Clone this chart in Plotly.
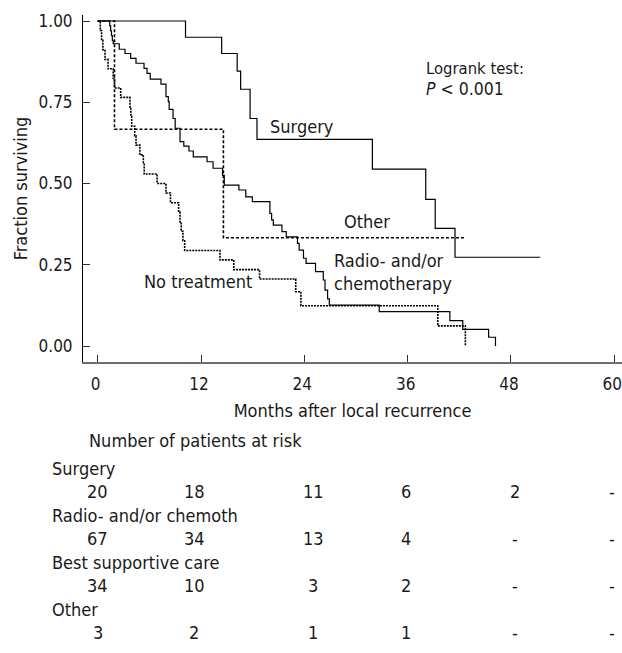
import plotly.graph_objects as go

# ---------------- data ----------------
surgery_t = [0, 10.2, 14.4, 16.2, 16.6, 17.7, 18.5, 31.9, 38.1, 39.2, 41.5, 51.4]
surgery_s = [1.0, 0.95, 0.90, 0.846, 0.79, 0.70, 0.636, 0.544, 0.451, 0.362, 0.273, 0.273]

radio_t = [0, 1.4, 1.5, 1.6, 1.7, 1.8, 2.5, 3.17, 3.83, 4.45, 5.38, 5.73, 6.1, 7.35, 7.93,
           8.2, 8.3, 8.75, 9.0, 9.56, 10.0, 10.6, 11.1, 12.7, 13.4, 14.5, 14.7, 16.4, 17.2,
           17.96, 20.0, 20.2, 20.4, 21.4, 21.9, 23.2, 23.4, 23.9, 24.2, 25.3, 26.2, 26.4,
           26.7, 26.9, 32.7, 40.9, 42.4, 45.4, 46.2]
radio_s = [1.0, 0.985, 0.97, 0.955, 0.94, 0.93, 0.913, 0.90, 0.885, 0.87, 0.854, 0.839, 0.821,
           0.806, 0.767, 0.752, 0.728, 0.70, 0.67, 0.629, 0.615, 0.60, 0.582, 0.567, 0.547,
           0.525, 0.495, 0.48, 0.459, 0.444, 0.408, 0.388, 0.372, 0.352, 0.336, 0.316, 0.295,
           0.27, 0.254, 0.229, 0.203, 0.172, 0.145, 0.126, 0.106, 0.078, 0.051, 0.027, 0.0]

bsc_t = [0, 0.3, 0.45, 0.6, 0.85, 1.2, 1.8, 1.95, 2.67, 3.75, 3.85, 3.95, 4.3, 4.45, 4.9,
         5.3, 5.4, 6.9, 7.93, 8.45, 9.4, 9.56, 9.7, 9.9, 10.1, 14.2, 15.8, 18.8, 23.0, 23.6,
         39.5, 42.7]
bsc_s = [1.0, 0.971, 0.941, 0.912, 0.882, 0.853, 0.824, 0.794, 0.765, 0.735, 0.706, 0.676,
         0.647, 0.618, 0.588, 0.559, 0.529, 0.50, 0.471, 0.441, 0.412, 0.382, 0.353, 0.324,
         0.294, 0.265, 0.235, 0.206, 0.167, 0.124, 0.062, 0.0]

other_t = [0, 1.95, 14.6, 42.6]
other_s = [1.0, 0.667, 0.333, 0.333]

x_ticks = [0, 12, 24, 36, 48, 60]
y_ticks = [0, 0.25, 0.5, 0.75, 1.0]

risk_groups = ["Surgery", "Radio- and/or chemoth", "Best supportive care", "Other"]
risk_counts = [
    ["20", "18", "11", "6", "2", "-"],
    ["67", "34", "13", "4", "-", "-"],
    ["34", "10", "3", "2", "-", "-"],
    ["3", "2", "1", "1", "-", "-"],
]

# ---------------- layout geometry ----------------
W, H = 622, 653
L, R, T, B = 83, 622, 15, 362
X0PX, XSC = 97.7, 8.61      # pixel of month 0, px per month
Y0PX, YSC = 346.0, 325.0    # pixel of survival 0, px per unit
xr = [(L - X0PX) / XSC, (R - X0PX) / XSC]
yr = [(Y0PX - B) / YSC, (Y0PX - T) / YSC]

def py(p):
    return (B - p) / (B - T)

def px(p):
    return (p - L) / (R - L)

FONT = "DejaVu Sans Condensed, DejaVu Sans, sans-serif"
FS = 18
TXT = "#1a1a1a"

fig = go.Figure()
fig.add_trace(go.Scatter(x=surgery_t, y=surgery_s, mode="lines", line_shape="hv",
                         line=dict(color="black", width=1.2), showlegend=False))
fig.add_trace(go.Scatter(x=radio_t, y=radio_s, mode="lines", line_shape="hv",
                         line=dict(color="black", width=1.2), showlegend=False))
fig.add_trace(go.Scatter(x=bsc_t, y=bsc_s, mode="lines", line_shape="hv",
                         line=dict(color="black", width=1.6, dash="2px,1px"), showlegend=False))
fig.add_trace(go.Scatter(x=other_t, y=other_s, mode="lines", line_shape="hv",
                         line=dict(color="black", width=1.6, dash="3px,2px"), showlegend=False))

ann = []
# in-plot labels
ann.append(dict(x=23.7, y=0.674, xref="x", yref="y", text="Surgery", showarrow=False,
                xanchor="center", yanchor="middle"))
ann.append(dict(x=31.3, y=0.382, xref="x", yref="y", text="Other", showarrow=False,
                xanchor="center", yanchor="middle"))
ann.append(dict(x=27.2, y=0.228, xref="x", yref="y", text="Radio- and/or<br>chemotherapy",
                showarrow=False, xanchor="left", yanchor="middle", align="left"))
ann.append(dict(x=11.6, y=0.198, xref="x", yref="y", text="No treatment", showarrow=False,
                xanchor="center", yanchor="middle"))
ann.append(dict(x=37.95, y=0.822, xref="x", yref="y",
                text="Logrank test:<br><span style='font-size:17.5px'><i>P</i> < 0.001</span>",
                showarrow=False, xanchor="left", yanchor="middle", align="left",
                font=dict(size=16.5)))

# at-risk table
ann.append(dict(x=px(87), y=py(440), xref="paper", yref="paper",
                text="Number of patients at risk", showarrow=False,
                xanchor="left", yanchor="middle"))
col_shift = [0, -7, 9, -2, 4, -2]
row_label_y = [468, 515, 562, 609]
row_num_y = [491, 538, 585, 632]
for gi, g in enumerate(risk_groups):
    ann.append(dict(x=px(50), y=py(row_label_y[gi]), xref="paper", yref="paper",
                    text=g, showarrow=False, xanchor="left", yanchor="middle"))
    for ci, c in enumerate(risk_counts[gi]):
        ann.append(dict(x=x_ticks[ci], y=py(row_num_y[gi]), xref="x", yref="paper",
                        text=c, showarrow=False, xanchor="center", yanchor="middle",
                        xshift=col_shift[ci]))

fig.update_layout(
    width=W, height=H,
    margin=dict(l=L, r=W - R, t=T, b=H - B, pad=0, autoexpand=False),
    paper_bgcolor="white", plot_bgcolor="white",
    font=dict(family=FONT, size=FS, color=TXT),
    annotations=ann,
    xaxis=dict(range=xr, tickvals=x_ticks, ticks="inside", ticklen=7, tickcolor="#333",
               showline=True, linecolor="#6e6e6e", linewidth=2, showgrid=False,
               zeroline=False, automargin=False, ticklabeloverflow="allow",
               ticklabelstandoff=6, ticklabelshift=-2,
               title=dict(text="Months after local recurrence", standoff=11,
                          font=dict(size=18)),
               tickfont=dict(size=17)),
    yaxis=dict(range=yr, tickvals=y_ticks, ticktext=[f"{v:.2f}" for v in y_ticks],
               ticks="inside", ticklen=7, tickcolor="#333", showline=True,
               linecolor="black", linewidth=1, showgrid=False, zeroline=False,
               automargin=False, ticklabeloverflow="allow", ticklabelstandoff=6,
               title=dict(text="Fraction surviving", standoff=6, font=dict(size=18)),
               tickfont=dict(size=17)),
)

fig.write_html("out.html",
               config={"displayModeBar": False},
               post_script="document.body.style.margin='0';"
                           "document.body.style.padding='0';"
                           "document.body.style.overflow='hidden';")
